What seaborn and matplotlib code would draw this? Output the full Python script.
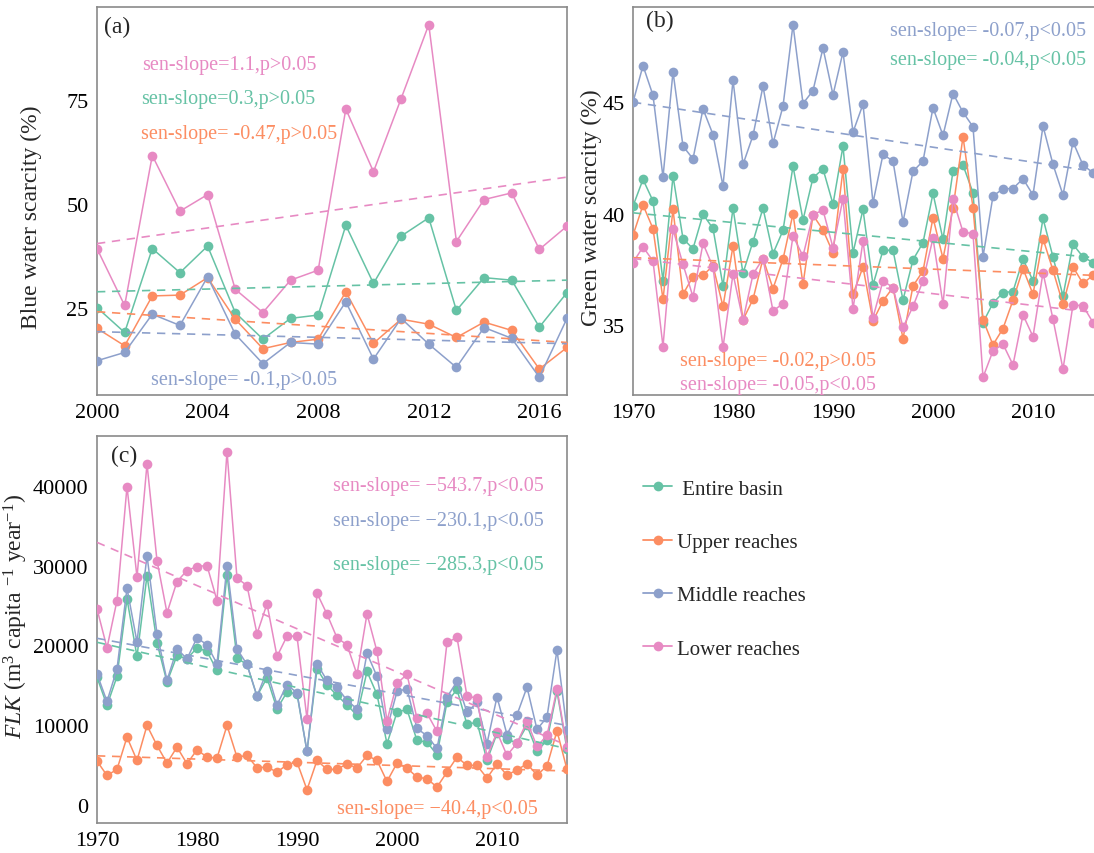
import numpy as np
import pandas as pd
import matplotlib
matplotlib.use("Agg")
import matplotlib.pyplot as plt
from matplotlib.lines import Line2D
import seaborn as sns

# ---------------- data ----------------
regions = ["Entire basin", "Upper reaches", "Middle reaches", "Lower reaches"]
legend_labels = [" Entire basin", "Upper reaches", "Middle reaches", "Lower reaches"]

years_a = list(range(2000, 2018))
blue_entire = [25.1, 19.1, 39.3, 33.5, 39.9, 23.9, 17.5, 22.5, 23.3, 44.9, 30.9, 42.3, 46.7, 24.4, 32.3, 31.7, 20.4, 28.7]
blue_upper = [20.1, 15.9, 27.9, 28.1, 32.3, 22.3, 15.2, 16.7, 17.5, 28.9, 16.5, 22.3, 21.1, 17.9, 21.6, 19.6, 10.3, 15.5]
blue_middle = [12.3, 14.3, 23.5, 20.8, 32.5, 18.7, 11.6, 16.7, 16.3, 26.5, 12.7, 22.5, 16.3, 10.7, 20.3, 17.7, 8.3, 22.5]
blue_lower = [39.3, 25.6, 61.7, 48.3, 52.3, 29.5, 23.9, 31.7, 34.1, 72.9, 57.8, 75.4, 93.2, 41.0, 51.1, 52.7, 39.1, 44.7]

years_bc = list(range(1970, 2018))
green_entire = [40.34, 41.54, 40.57, 36.99, 41.69, 38.88, 38.43, 39.97, 39.34, 36.76,
                40.25, 37.33, 38.75, 40.25, 38.21, 39.25, 42.13, 39.72, 41.61, 42.01,
                40.43, 43.03, 38.25, 40.19, 36.81, 38.36, 38.36, 36.13, 37.93, 38.70,
                40.91, 38.85, 41.91, 42.18, 40.94, 35.12, 35.99, 36.46, 36.51, 37.96,
                36.99, 39.79, 38.06, 36.31, 38.63, 38.06, 37.81, 38.5]
green_upper = [39.03, 40.39, 39.33, 36.16, 40.19, 36.39, 37.18, 37.24, 37.66, 35.84,
               38.55, 35.24, 36.16, 37.99, 36.64, 37.96, 40.0, 36.84, 39.94, 39.27,
               38.25, 41.99, 36.39, 37.61, 35.19, 36.09, 36.69, 34.40, 36.76, 37.43,
               39.82, 37.99, 40.24, 43.45, 40.27, 35.24, 34.12, 34.85, 36.12, 37.54,
               36.39, 38.88, 37.46, 35.94, 37.61, 36.87, 37.24, 37.3]
green_middle = [45.0, 46.64, 45.31, 41.64, 46.37, 43.03, 42.46, 44.70, 43.55, 41.24,
                45.99, 42.21, 43.51, 45.72, 43.15, 44.82, 48.48, 44.94, 45.52, 47.43,
                45.33, 47.25, 43.66, 44.91, 40.49, 42.66, 42.36, 39.63, 41.90, 42.36,
                44.75, 43.51, 45.39, 44.55, 43.90, 38.07, 40.79, 41.12, 41.13, 41.57,
                40.84, 43.93, 42.21, 40.84, 43.22, 42.18, 41.84, 43.0]
green_lower = [37.81, 38.51, 37.88, 34.04, 39.30, 37.73, 36.27, 38.67, 37.61, 34.0,
               37.31, 35.22, 37.28, 37.99, 35.64, 35.97, 39.0, 38.10, 39.96, 40.16,
               38.48, 40.67, 35.72, 38.78, 35.34, 36.99, 36.69, 34.90, 35.84, 36.99,
               38.90, 35.94, 40.64, 39.18, 39.10, 32.66, 33.85, 34.15, 33.22, 35.46,
               34.49, 37.36, 35.27, 33.03, 35.91, 35.87, 35.12, 35.8]

flk_entire = [16042, 12500, 16125, 25833, 18625, 28750, 20333, 15417, 18750, 18333,
              19708, 19250, 16875, 28875, 18417, 17625, 13667, 15958, 12083, 14167,
              13958, 6750, 17083, 15083, 13750, 12583, 11250, 16750, 13875, 7708,
              11667, 12000, 8125, 7917, 6333, 12917, 14500, 10125, 10417, 5625,
              9000, 8300, 7800, 10000, 6800, 8125, 14250, 7000]
flk_upper = [5542, 3750, 4500, 8542, 5625, 10000, 7500, 5292, 7292, 5208,
             6958, 6042, 5917, 10000, 6042, 6250, 4708, 4792, 4167, 5083,
             5417, 1958, 5625, 4500, 4500, 5208, 4667, 6250, 5625, 3000,
             5292, 4667, 3542, 3333, 2292, 4167, 6042, 5000, 5000, 3417,
             5208, 3792, 4438, 5208, 3792, 4938, 9313, 4500]
flk_middle = [16458, 13000, 17083, 27167, 20417, 31250, 21458, 15625, 19583, 18333,
              20958, 20083, 17708, 30000, 19583, 17625, 13667, 16792, 12583, 15083,
              14083, 6750, 17708, 15625, 14792, 13125, 12083, 19042, 16125, 9583,
              14250, 14583, 9625, 8708, 7125, 13542, 15500, 11625, 12875, 7729,
              13583, 8854, 11333, 14792, 9500, 11042, 19458, 9400]
flk_lower = [24583, 19708, 25625, 39875, 28542, 42708, 30625, 24083, 28000, 29375,
             29875, 30000, 25625, 44250, 28417, 27500, 21458, 25208, 18625, 21167,
             21167, 10833, 26542, 23917, 20958, 20083, 16375, 23958, 19250, 10583,
             15250, 16396, 10875, 11521, 9250, 20375, 21000, 13667, 13417, 6100,
             9167, 6250, 7792, 10500, 7375, 8750, 14583, 7300]

# trend lines (start value, end value), order = regions
trend_a_start = [28.9, 24.1, 19.3, 40.5]
trend_a_end = [31.7, 16.7, 16.4, 56.5]
trend_b_start = [40.04, 38.03, 45.0, 37.99]
trend_b_end = [37.99, 37.22, 41.84, 35.52]
trend_c_start = [20400, 6200, 20900, 32900]
trend_c_end = [7100, 4300, 10000, 7500]

# slope annotations
labels_a = ["sen-slope=0.3,p>0.05", "sen-slope= -0.47,p>0.05", "sen-slope= -0.1,p>0.05", "sen-slope=1.1,p>0.05"]
labels_b = ["sen-slope= -0.04,p<0.05", "sen-slope= -0.02,p>0.05", "sen-slope= -0.07,p<0.05", "sen-slope= -0.05,p<0.05"]
labels_c = ["sen-slope= \u2212285.3,p<0.05", "sen-slope= \u221240.4,p<0.05", "sen-slope= \u2212230.1,p<0.05", "sen-slope= \u2212543.7,p<0.05"]

# ---------------- style ----------------
sns.set_style("white")
plt.rcParams["font.family"] = ["Liberation Serif", "DejaVu Serif"]
plt.rcParams["mathtext.fontset"] = "custom"
plt.rcParams["mathtext.rm"] = "Liberation Serif"
plt.rcParams["mathtext.it"] = "Liberation Serif:italic"
plt.rcParams["axes.unicode_minus"] = False

pal = sns.color_palette("Set2", 4)
pal_map = dict(zip(regions, pal))
frame_col = "#8a8a8a"


def long_df(x, series):
    rows = []
    for reg, vals in zip(regions, series):
        for xi, v in zip(x, vals):
            rows.append((xi, v, reg))
    return pd.DataFrame(rows, columns=["year", "value", "region"])


def trend_df(x0, x1, starts, ends):
    rows = []
    for reg, s, e in zip(regions, starts, ends):
        rows.append((x0, s, reg))
        rows.append((x1, e, reg))
    return pd.DataFrame(rows, columns=["year", "value", "region"])


def draw(ax, x, series, starts, ends):
    df = long_df(x, series)
    sns.lineplot(data=df, x="year", y="value", hue="region", hue_order=regions,
                 palette=pal_map, marker="o", markersize=7, markeredgewidth=0,
                 linewidth=1.1, legend=False, ax=ax, zorder=3)
    tdf = trend_df(x[0], x[-1], starts, ends)
    sns.lineplot(data=tdf, x="year", y="value", hue="region", hue_order=regions,
                 palette=pal_map, linestyle=(0, (5, 4)), linewidth=1.2,
                 legend=False, ax=ax, zorder=4)
    ax.set_xlim(x[0], x[-1])
    ax.set_xlabel("")
    for sp in ax.spines.values():
        sp.set_color(frame_col)
        sp.set_linewidth(1.2)
        sp.set_visible(True)
    ax.tick_params(axis="both", direction="out", length=4, width=1.0,
                   color=frame_col, labelcolor="black", labelsize=16, pad=2)
    ax.set_facecolor("white")


fig = plt.figure(figsize=(10.94, 8.54), dpi=100)
W, H = 1094.0, 854.0


def axes_px(left, top, right, bottom):
    return fig.add_axes([left / W, 1 - bottom / H, (right - left) / W, (bottom - top) / H])


ax_a = axes_px(97, 8, 567, 396)
ax_b = axes_px(633, 8, 1103, 396)
ax_c = axes_px(97, 437, 567, 824)

# panel a
draw(ax_a, years_a, [blue_entire, blue_upper, blue_middle, blue_lower], trend_a_start, trend_a_end)
ax_a.set_xticks([2000, 2004, 2008, 2012, 2016])
ax_a.set_yticks([25, 50, 75])
ax_a.set_ylabel("Blue water scarcity (%)", fontsize=17)
ax_a.yaxis.set_label_coords(-0.118, 0.46)
ax_a.text(0.015, 0.95, "(a)", transform=ax_a.transAxes, fontsize=17, va="center", ha="left")
pos_a = [(0.093, 0.763), (0.093, 0.673), (0.114, 0.041), (0.097, 0.853)]
for (px, py), lab, c in zip(pos_a, labels_a, pal):
    ax_a.text(px, py, lab, transform=ax_a.transAxes, fontsize=14.5, color=c, va="center", ha="left")

# panel b
draw(ax_b, years_bc, [green_entire, green_upper, green_middle, green_lower], trend_b_start, trend_b_end)
ax_b.set_xticks([1970, 1980, 1990, 2000, 2010])
ax_b.set_yticks([35, 40, 45])
ax_b.set_ylabel("Green water scarcity (%)", fontsize=17)
ax_b.yaxis.set_label_coords(-0.066, 0.485)
ax_b.text(0.028, 0.965, "(b)", transform=ax_b.transAxes, fontsize=17, va="center", ha="left")
pos_b = [(0.547, 0.864), (0.100, 0.090), (0.547, 0.939), (0.100, 0.028)]
for (px, py), lab, c in zip(pos_b, labels_b, pal):
    ax_b.text(px, py, lab, transform=ax_b.transAxes, fontsize=14.5, color=c, va="center", ha="left")

# panel c
draw(ax_c, years_bc, [flk_entire, flk_upper, flk_middle, flk_lower], trend_c_start, trend_c_end)
ax_c.set_xticks([1970, 1980, 1990, 2000, 2010])
ax_c.set_yticks([0, 10000, 20000, 30000, 40000])
ax_c.set_ylim(-2200, 46200)
ax_c.set_ylabel(r"$\it{FLK}$ (m$^3$ capita $^{-1}$ year$^{-1}$)", fontsize=17)
ax_c.yaxis.set_label_coords(-0.142, 0.537)
ax_c.text(0.029, 0.949, "(c)", transform=ax_c.transAxes, fontsize=17, va="center", ha="left")
pos_c = [(0.503, 0.669), (0.511, 0.038), (0.503, 0.781), (0.503, 0.872)]
for (px, py), lab, c in zip(pos_c, labels_c, pal):
    ax_c.text(px, py, lab, transform=ax_c.transAxes, fontsize=14.5, color=c, va="center", ha="left")

# legend
handles = [Line2D([0], [0], color=c, marker="o", markersize=7, markeredgewidth=0, linewidth=1.3)
           for c in pal]
fig.legend(handles, legend_labels, loc="upper left", bbox_to_anchor=(643 / W, 1 - 480 / H),
           frameon=False, fontsize=15, handlelength=1.4, handletextpad=0.25,
           labelspacing=1.62, borderpad=0, borderaxespad=0)

fig.savefig("out.png", dpi=100, facecolor="white")
